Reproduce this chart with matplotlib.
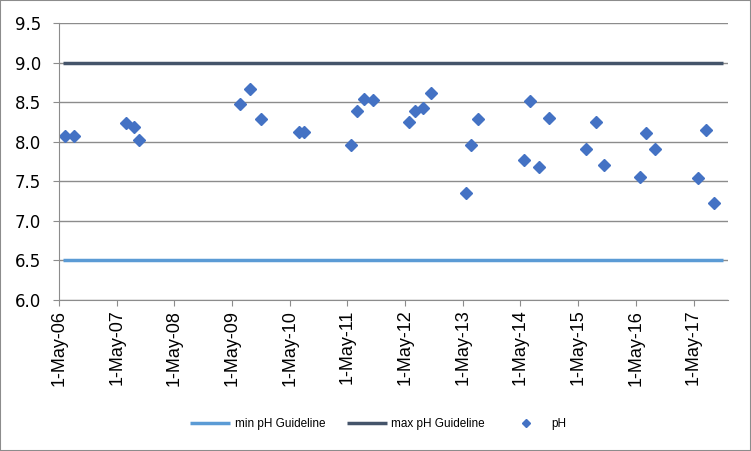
import pandas as pd
import matplotlib
matplotlib.use('Agg')
import matplotlib.pyplot as plt
import matplotlib.dates as mdates

# pH samples
sample_dates = [
    '2006-06-10', '2006-08-03', '2007-06-30', '2007-08-17', '2007-09-22',
    '2009-06-21', '2009-08-25', '2009-11-02', '2010-06-29', '2010-08-01',
    '2011-05-24', '2011-07-03', '2011-08-14', '2011-10-08', '2012-05-26',
    '2012-07-05', '2012-08-24', '2012-10-12', '2013-05-21', '2013-06-24',
    '2013-08-05', '2014-05-23', '2014-07-02', '2014-08-28', '2014-10-30',
    '2015-06-21', '2015-08-21', '2015-10-13', '2016-05-29', '2016-07-04',
    '2016-08-30', '2017-05-31', '2017-07-18', '2017-09-09',
]
ph_values = [
    8.07, 8.07, 8.24, 8.19, 8.02,
    8.48, 8.67, 8.29, 8.12, 8.12,
    7.96, 8.39, 8.54, 8.53, 8.25,
    8.39, 8.42, 8.61, 7.35, 7.96,
    8.29, 7.77, 8.52, 7.68, 8.30,
    7.91, 8.25, 7.70, 7.55, 8.11,
    7.91, 7.54, 8.15, 7.23,
]

guide_dates = ['2006-05-25', '2017-11-05']
min_guideline = [6.5, 6.5]
max_guideline = [9.0, 9.0]

x_start, x_end = '2006-05-01', '2017-12-05'
tick_dates = pd.date_range('2006-05-01', '2017-05-01', freq='12MS')

sample_dates = pd.to_datetime(sample_dates)
guide_dates = pd.to_datetime(guide_dates)

fig = plt.figure(figsize=(7.51, 4.51), dpi=100)
ax = fig.add_axes([59 / 751, 1 - 300 / 451, (728 - 59) / 751, (300 - 23) / 451])

l1, = ax.plot(guide_dates, min_guideline, color='#5B9BD5', linewidth=2.5,
              solid_capstyle='butt', label='min pH Guideline')
l2, = ax.plot(guide_dates, max_guideline, color='#44546A', linewidth=2.5,
              solid_capstyle='butt', label='max pH Guideline')
l3, = ax.plot(sample_dates, ph_values, 'D', color='#4472C4', markersize=6.5,
              linestyle='none', label='pH')

ax.set_xlim(pd.Timestamp(x_start), pd.Timestamp(x_end))
ax.set_ylim(6.0, 9.5)
ax.set_yticks([6.0 + 0.5 * i for i in range(8)])
ax.yaxis.set_major_formatter(matplotlib.ticker.FormatStrFormatter('%.1f'))
ax.set_xticks(tick_dates)
labels = [f'{d.day}-{d.strftime("%b-%y")}' for d in tick_dates]
ax.set_xticklabels(labels, rotation=90, fontsize=13, family='Liberation Sans')
for t in ax.get_yticklabels():
    t.set_fontsize(12)

ax.grid(axis='y', color='#8C8C8C', linewidth=1)
ax.set_axisbelow(True)
for side in ['top', 'right']:
    ax.spines[side].set_visible(False)
ax.spines['left'].set_color('#8C8C8C')
ax.spines['bottom'].set_color('#8C8C8C')
ax.tick_params(axis='x', length=4, color='#8C8C8C', pad=3)
ax.tick_params(axis='y', length=4, color='#8C8C8C', pad=9)

leg = fig.legend(handles=[l1, l2, l3], loc='center', bbox_to_anchor=(378 / 751, 1 - 424 / 451),
                 ncol=3, frameon=False, handlelength=3.4, handletextpad=0.4, columnspacing=1.8,
                 prop={'family': 'Liberation Sans', 'size': 8.5})
for h in leg.legend_handles:
    if isinstance(h, matplotlib.lines.Line2D) and h.get_marker() == 'D':
        h.set_markersize(4)

fig.patches.append(matplotlib.patches.Rectangle((0, 0), 1, 1, transform=fig.transFigure,
                                                fill=False, edgecolor='#8C8C8C', linewidth=1.5))

fig.savefig('out.png', dpi=100)
